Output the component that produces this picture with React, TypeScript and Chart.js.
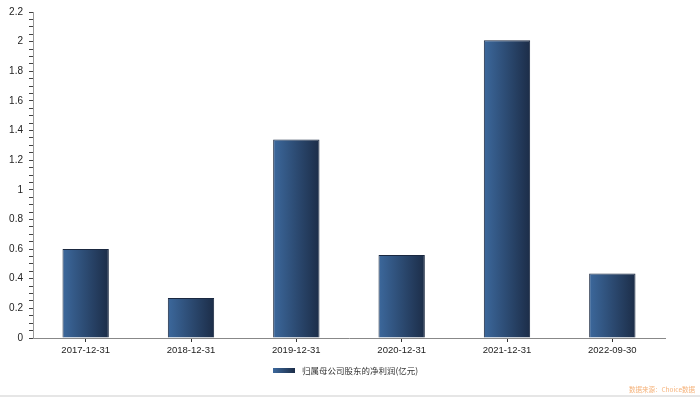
import React, { useEffect, useRef } from "react";
import { Chart, registerables } from "chart.js";

Chart.register(...registerables);

const categories = ["2017-12-31", "2018-12-31", "2019-12-31", "2020-12-31", "2021-12-31", "2022-09-30"];
const netProfit = [0.6, 0.27, 1.34, 0.56, 2.01, 0.435];
const seriesName = "归属母公司股东的净利润(亿元)";
const sourceText = "数据来源：Choice数据";
const yMax = 2.2;

const LIGHT = "#3c689c";
const DARK = "#1c2d48";

const extras = {
  id: "extras",
  afterDraw(chart: any) {
    const ctx = chart.ctx;
    ctx.save();
    const bx = 273, by = 368, bw = 22, bh = 5;
    const g = ctx.createLinearGradient(bx, 0, bx + bw, 0);
    g.addColorStop(0, LIGHT);
    g.addColorStop(1, DARK);
    ctx.fillStyle = g;
    ctx.fillRect(bx, by, bw, bh);
    ctx.fillStyle = "#333";
    ctx.font = "8.5px 'Noto Sans CJK SC'";
    ctx.textBaseline = "middle";
    ctx.textAlign = "left";
    ctx.fillText(seriesName, 302, 370.5);
    ctx.fillStyle = "#f5b27a";
    ctx.font = "6.5px 'Noto Sans CJK SC'";
    ctx.textAlign = "right";
    ctx.fillText(sourceText, 695, 390);
    ctx.fillStyle = "#e6e6e6";
    ctx.fillRect(0, 395, 700, 2);
    ctx.restore();
  },
};

export default function App() {
  const ref = useRef<HTMLCanvasElement>(null);
  useEffect(() => {
    document.body.style.margin = "0";
    const canvas = ref.current!;
    const chart = new Chart(canvas, {
      type: "bar",
      data: {
        labels: categories,
        datasets: [
          {
            label: seriesName,
            data: netProfit,
            barPercentage: 0.44,
            categoryPercentage: 1,
            borderColor: "#1a2840",
            borderWidth: 1,
            backgroundColor: (c: any) => {
              const ch = c.chart;
              const xs = ch.scales?.x;
              if (!xs || c.dataIndex === undefined) return LIGHT;
              const cw = (xs.right - xs.left) / categories.length;
              const w = cw * 0.44;
              const cx = xs.getPixelForValue(c.dataIndex);
              if (!isFinite(cx) || !isFinite(w) || w <= 0) return LIGHT;
              const g = ch.ctx.createLinearGradient(cx - w / 2, 0, cx + w / 2, 0);
              g.addColorStop(0, LIGHT);
              g.addColorStop(1, DARK);
              return g;
            },
          },
        ],
      },
      options: {
        responsive: false,
        animation: false,
        layout: { padding: { top: 10, right: 35, bottom: 0, left: 0 } },
        plugins: { legend: { display: false }, tooltip: { enabled: false } },
        scales: {
          x: {
            afterFit: (s: any) => { s.height = 59; },
            grid: { display: true, drawOnChartArea: false, offset: false, tickLength: 4, color: "#333" },
            border: { color: "#888", width: 1 },
            ticks: { color: "#222", font: { size: 9.5, family: "'Liberation Sans', Arial" }, padding: 3, maxRotation: 0 },
          },
          y: {
            min: 0,
            max: yMax,
            afterFit: (s: any) => { s.width = 33; },
            grid: { display: true, drawOnChartArea: false, tickLength: 4, color: "#444" },
            border: { color: "#999", width: 1 },
            ticks: {
              stepSize: 0.05,
              autoSkip: false,
              padding: 6,
              color: "#222",
              font: { size: 10, family: "'Liberation Sans', Arial" },
              callback: (v: any) => {
                const n = Math.round(Number(v) * 100);
                return n % 20 === 0 ? String(n / 100) : "";
              },
            },
          },
        },
      },
      plugins: [extras],
    });
    return () => chart.destroy();
  }, []);
  return <canvas ref={ref} width={700} height={397} style={{ display: "block" }} />;
}
